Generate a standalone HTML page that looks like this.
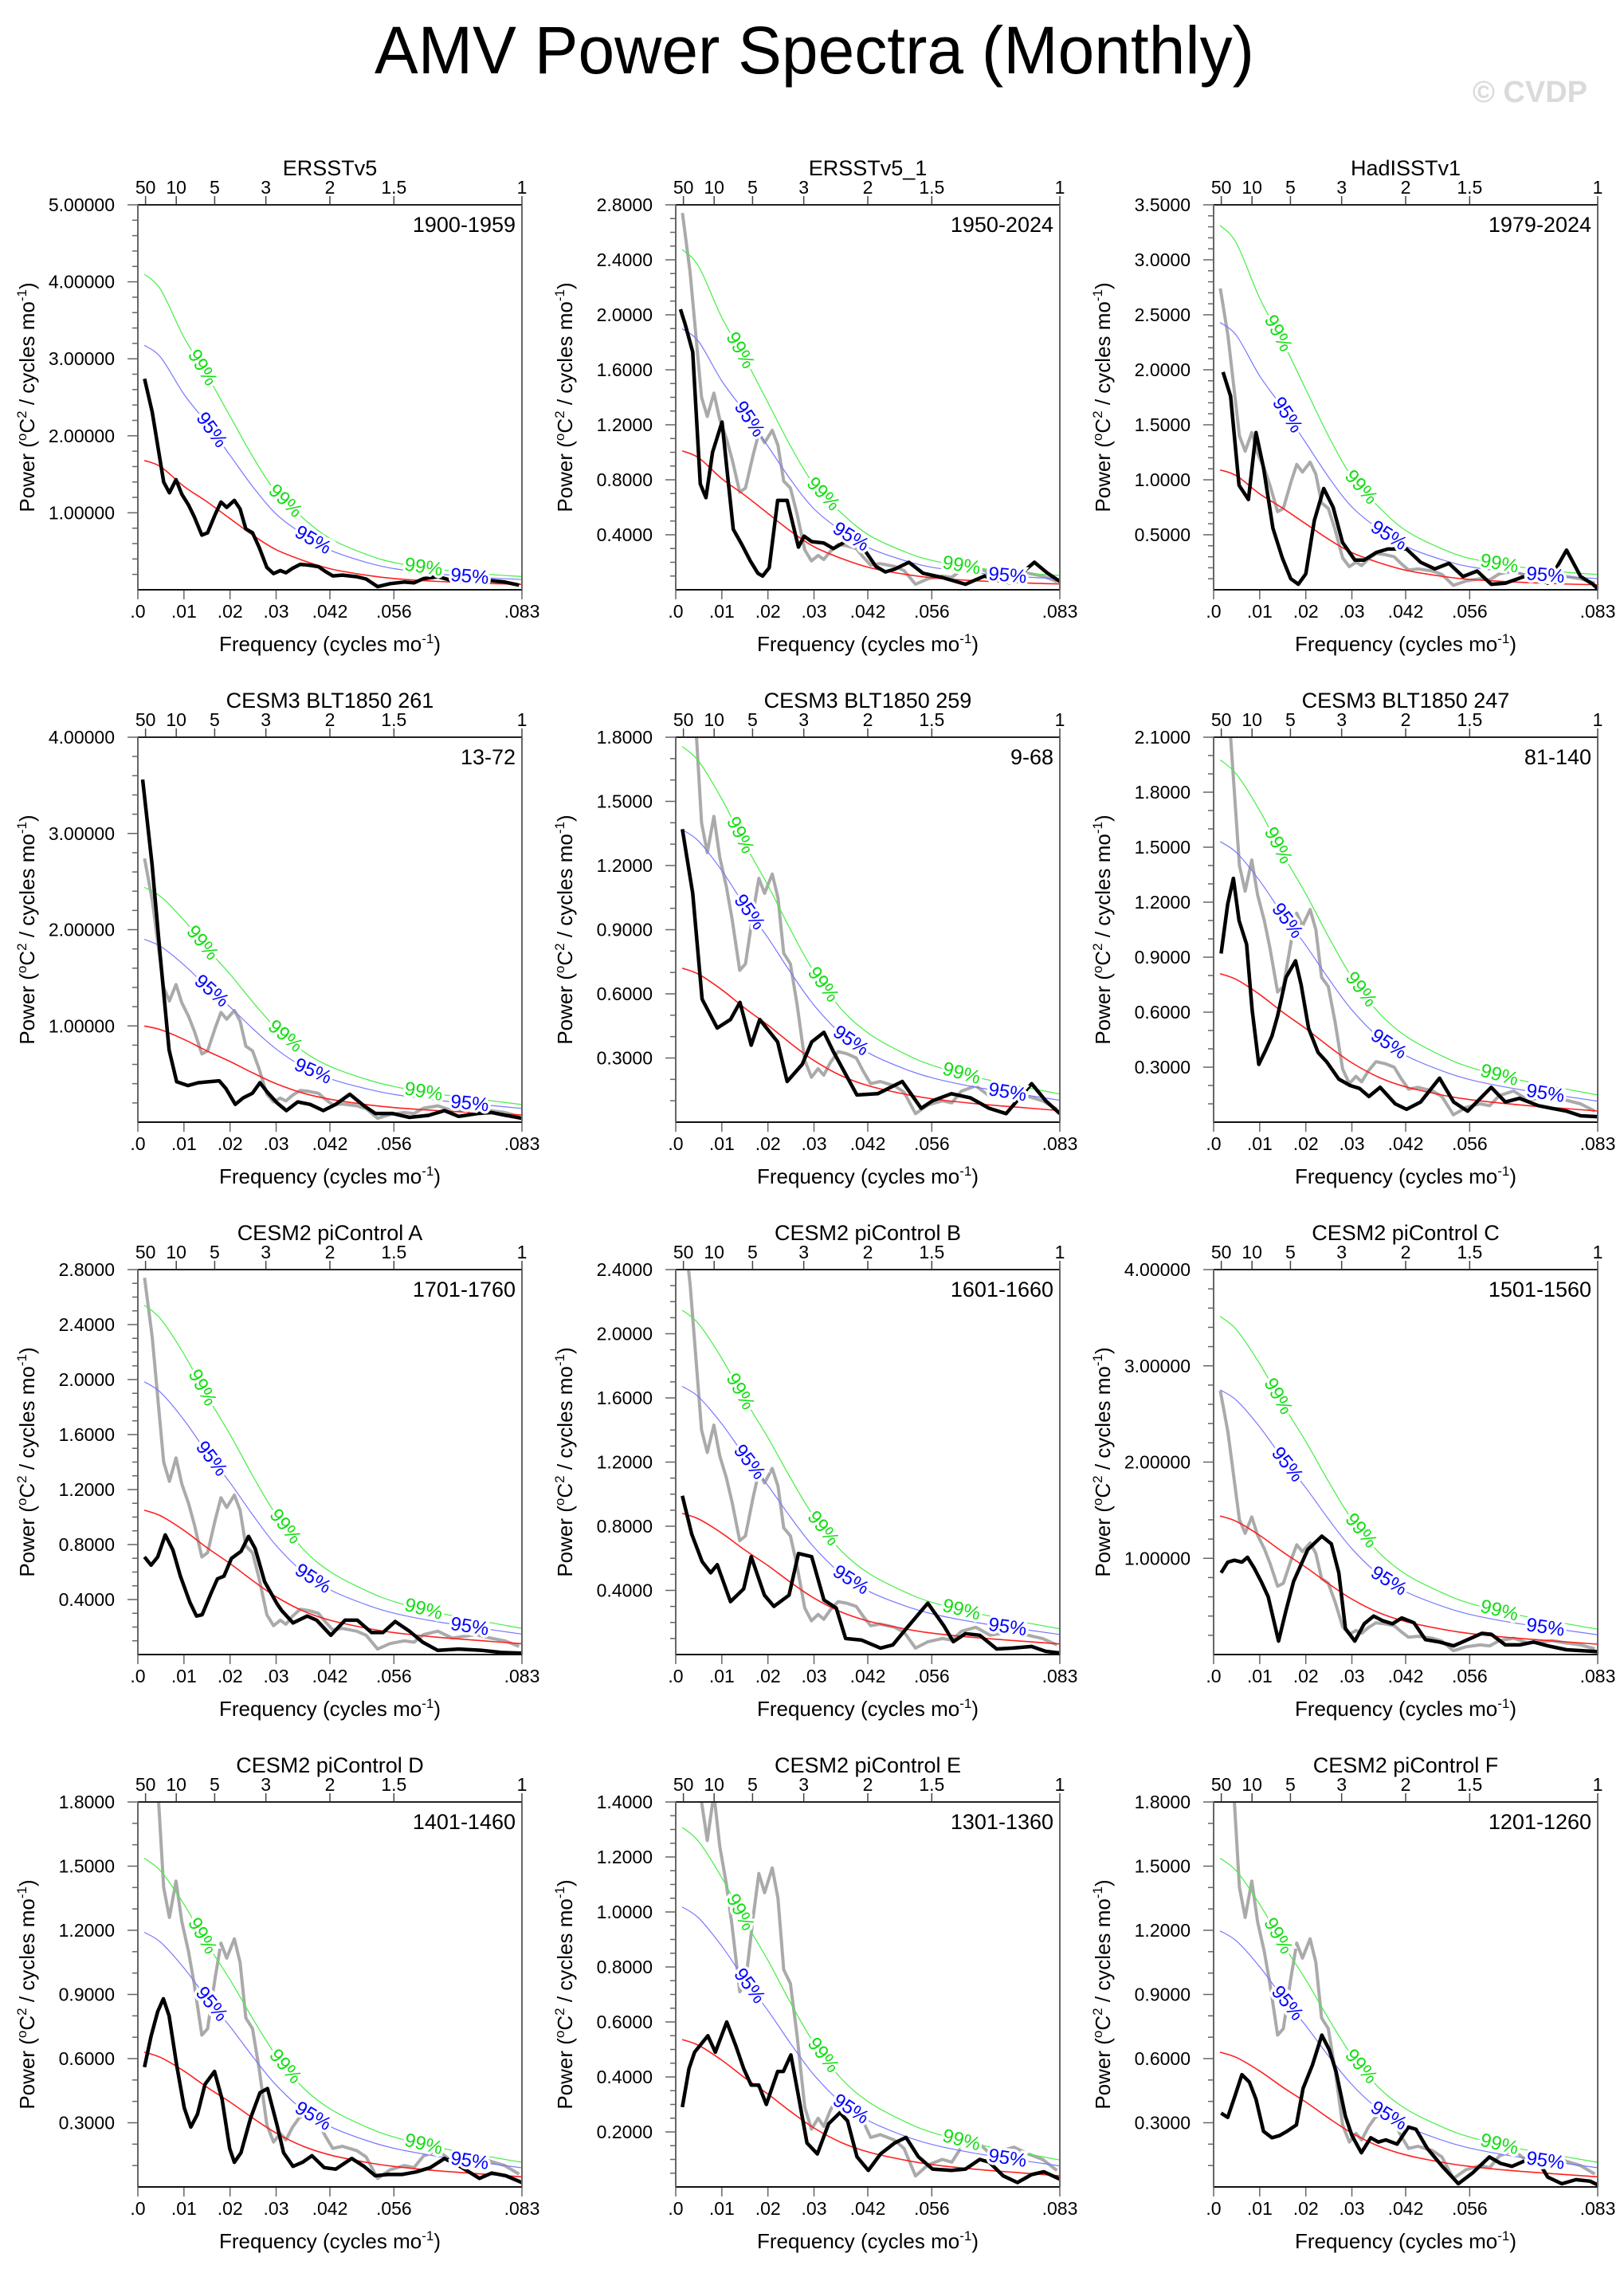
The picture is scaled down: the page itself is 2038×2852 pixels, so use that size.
<!DOCTYPE html>
<html><head><meta charset="utf-8"><title>AMV Power Spectra (Monthly)</title>
<style>
html,body{margin:0;padding:0;background:#fff;}
svg{display:block;font-family:"Liberation Sans",Arial,sans-serif;}
</style></head>
<body>
<svg id="fig" width="2038" height="2852" viewBox="0 0 2038 2852" xmlns="http://www.w3.org/2000/svg">
<rect x="0" y="0" width="2038" height="2852" fill="#fff"/>
<text x="1022" y="92" font-size="84" text-anchor="middle" textLength="1104" lengthAdjust="spacingAndGlyphs">AMV Power Spectra (Monthly)</text>
<text x="1992" y="128" font-size="38" font-weight="bold" fill="#dadada" text-anchor="end">© CVDP</text>
</svg>
<script>
// ---------------- data ----------------
const panelTitles = ["ERSSTv5","ERSSTv5_1","HadISSTv1","CESM3 BLT1850 261","CESM3 BLT1850 259","CESM3 BLT1850 247","CESM2 piControl A","CESM2 piControl B","CESM2 piControl C","CESM2 piControl D","CESM2 piControl E","CESM2 piControl F"];
const periodLabels = ["1900-1959","1950-2024","1979-2024","13-72","9-68","81-140","1701-1760","1601-1660","1501-1560","1401-1460","1301-1360","1201-1260"];
const yMaxes = [5,2.8,3.5,4,1.8,2.1,2.8,2.4,4,1.8,1.4,1.8];
const yMajorSteps = [1,0.4,0.5,1,0.3,0.3,0.4,0.4,1,0.3,0.2,0.3];
const xTickValues = [0,0.01,0.02,0.03,1/24,1/18,1/12];
const xTickLabels = [".0",".01",".02",".03",".042",".056",".083"];
const periodTickYears = [50,10,5,3,2,1.5,1];
const periodTickLabels = ["50","10","5","3","2","1.5","1"];

// frequencies in units of 0.001 cycles/mo, power in °C^2/(cycles/mo)
const freq1 = [1.45,3.11,5.60,6.84,8.29,9.54,10.99,12.23,13.89,15.13,16.79,18.04,19.28,20.94,22.18,23.42,24.88,26.33,27.99,29.44,30.89,32.13,33.58,35.24,37.11,39.18,40.63,42.29,44.36,47.47,49.54,52.03,54.73,57.84,59.91,61.98,65.09,68.20,73.38,76.49,79.60,82.71];
const power1 = [2.74,2.31,1.40,1.26,1.43,1.24,1.10,0.95,0.71,0.74,0.98,1.14,1.07,1.16,1.05,0.79,0.74,0.55,0.29,0.21,0.25,0.22,0.28,0.33,0.32,0.30,0.24,0.18,0.19,0.17,0.14,0.04,0.08,0.10,0.09,0.145,0.17,0.12,0.145,0.12,0.10,0.06];
const freq2 = [1.02,2.05,3.69,5.32,6.55,7.99,10.04,11.26,12.49,14.34,16.18,17.82,18.84,20.28,22.12,24.17,26.62,27.85,29.49,32.15,34.20,36.25,38.91,40.96,43.42,45.47,47.51,50.59,53.66,57.75,62.87,66.97,72.50,77.82,80.69,83.35];
const power2 = [2.04,1.93,1.73,0.77,0.67,1.0,1.22,0.83,0.44,0.33,0.21,0.12,0.10,0.16,0.65,0.65,0.31,0.39,0.35,0.34,0.30,0.34,0.42,0.29,0.17,0.13,0.15,0.20,0.12,0.09,0.04,0.10,0.05,0.20,0.12,0.06];
const freq3 = [2.04,3.68,5.51,7.56,9.19,10.82,12.86,14.91,16.74,18.38,20.01,21.85,23.89,25.93,27.98,30.63,32.67,35.33,37.78,41.86,44.92,47.99,51.05,54.11,57.18,60.24,63.30,67.39,70.04,72.49,76.58,79.64,82.29,83.32];
const power3 = [1.98,1.76,0.95,0.82,1.43,1.11,0.56,0.29,0.10,0.05,0.145,0.63,0.92,0.75,0.43,0.27,0.27,0.34,0.37,0.37,0.25,0.19,0.24,0.12,0.17,0.05,0.06,0.12,0.12,0.06,0.36,0.12,0.05,0.01];
const freq4 = [1.03,3.08,4.93,6.77,8.42,10.88,13.14,17.66,19.09,21.15,22.79,24.84,26.48,28.13,30.18,32.23,34.70,37.36,40.24,42.91,45.99,49.07,51.53,55.22,58.92,63.03,66.52,69.60,73.70,76.78,79.86,83.35];
const power4 = [3.56,2.68,1.69,0.75,0.42,0.38,0.41,0.43,0.35,0.185,0.25,0.30,0.41,0.31,0.20,0.12,0.21,0.185,0.12,0.185,0.29,0.17,0.09,0.09,0.05,0.07,0.12,0.06,0.09,0.10,0.07,0.04];
const freq5 = [1.43,3.69,5.73,9.01,11.88,13.93,16.38,18.23,22.12,24.17,27.44,29.49,32.15,34.20,39.32,43.83,49.15,53.25,55.71,59.80,63.90,67.99,71.68,77.21,80.28,83.35];
const power5 = [1.37,1.07,0.575,0.44,0.48,0.56,0.36,0.48,0.375,0.19,0.27,0.375,0.42,0.33,0.127,0.133,0.19,0.065,0.10,0.133,0.114,0.065,0.04,0.18,0.10,0.04];
const freq6 = [1.63,3.06,4.29,5.51,7.15,8.37,9.80,11.23,12.66,13.89,15.72,17.77,18.99,20.62,22.67,24.50,27.16,29.61,31.65,33.69,36.14,39.41,41.86,44.92,49.01,52.07,55.13,60.24,63.30,66.37,70.45,73.51,76.58,79.64,83.32];
const power6 = [0.92,1.19,1.33,1.10,0.97,0.61,0.315,0.39,0.47,0.58,0.79,0.88,0.75,0.51,0.38,0.33,0.235,0.20,0.184,0.14,0.19,0.10,0.07,0.11,0.24,0.11,0.06,0.19,0.11,0.13,0.09,0.075,0.06,0.035,0.03];
const freq7 = [1.44,2.87,4.31,5.95,7.60,9.24,11.29,12.73,13.96,15.81,17.25,18.68,20.32,22.38,24.02,25.46,27.51,30.18,31.21,33.67,36.75,38.80,41.88,44.96,47.63,50.71,53.17,55.84,58.92,61.80,65.08,69.60,74.73,78.84,83.35];
const power7 = [0.71,0.65,0.71,0.87,0.76,0.57,0.38,0.28,0.29,0.44,0.55,0.57,0.70,0.75,0.86,0.77,0.53,0.37,0.32,0.23,0.28,0.25,0.14,0.25,0.25,0.16,0.16,0.24,0.17,0.09,0.03,0.04,0.03,0.015,0.01];
const freq8 = [1.43,3.48,5.73,7.58,9.01,11.88,14.75,16.38,19.25,21.30,24.58,26.62,29.49,32.15,34.82,36.86,40.35,44.44,47.10,49.97,54.68,58.16,60.21,62.87,65.95,69.63,73.11,77.21,80.28,83.35];
const power8 = [0.99,0.75,0.58,0.51,0.56,0.33,0.41,0.61,0.37,0.30,0.37,0.63,0.61,0.34,0.29,0.10,0.09,0.04,0.06,0.16,0.32,0.18,0.08,0.13,0.12,0.035,0.04,0.05,0.02,0.01];
const freq9 = [1.63,3.06,4.49,6.13,7.35,8.78,10.41,11.84,14.09,15.72,17.36,20.42,23.48,25.53,27.16,28.59,30.63,32.67,34.71,36.76,38.80,40.84,43.49,45.95,49.01,52.07,55.13,58.20,60.24,63.30,66.37,69.43,72.49,76.58,83.32];
const power9 = [0.85,0.96,0.98,0.96,1.01,0.90,0.75,0.60,0.14,0.46,0.76,1.09,1.23,1.15,0.85,0.27,0.14,0.32,0.40,0.35,0.32,0.38,0.33,0.155,0.13,0.09,0.155,0.22,0.21,0.10,0.10,0.13,0.09,0.05,0.03];
const freq10 = [1.44,2.87,4.31,5.54,6.77,8.42,10.06,11.50,12.93,14.58,16.63,18.27,19.91,20.94,22.38,24.43,26.48,28.13,30.18,31.62,33.67,35.72,37.78,40.44,42.91,46.40,49.07,51.53,54.20,57.28,60.36,63.44,66.52,69.60,74.11,76.78,79.86,83.35];
const power10 = [0.56,0.705,0.82,0.88,0.80,0.57,0.37,0.28,0.34,0.48,0.54,0.41,0.18,0.115,0.16,0.32,0.44,0.46,0.29,0.16,0.096,0.115,0.146,0.09,0.083,0.133,0.096,0.052,0.058,0.058,0.07,0.09,0.133,0.10,0.04,0.065,0.052,0.02];
const freq11 = [1.43,2.87,4.10,5.53,6.96,8.60,11.06,13.11,14.75,16.38,18.02,19.66,22.12,23.35,24.99,26.42,28.47,30.72,33.18,35.64,37.27,39.32,41.78,44.44,47.51,49.97,52.63,55.71,59.80,62.87,65.95,67.99,71.07,74.14,77.21,79.87,83.35];
const power11 = [0.29,0.43,0.49,0.52,0.55,0.49,0.60,0.51,0.43,0.37,0.37,0.30,0.42,0.42,0.48,0.35,0.16,0.12,0.23,0.27,0.24,0.11,0.06,0.12,0.16,0.18,0.11,0.065,0.06,0.065,0.10,0.09,0.04,0.016,0.045,0.055,0.028];
const freq12 = [1.63,3.06,4.70,6.13,7.76,9.19,10.82,12.66,14.29,15.93,17.97,19.40,21.44,23.48,25.12,26.55,28.59,30.02,32.06,34.10,35.73,37.37,39.82,42.27,43.90,46.35,49.62,53.09,56.16,59.83,62.28,64.73,68.41,70.45,72.49,75.55,78.62,81.68,83.32];
const power12 = [0.345,0.325,0.43,0.525,0.49,0.41,0.26,0.23,0.24,0.26,0.29,0.46,0.57,0.71,0.64,0.54,0.33,0.24,0.16,0.23,0.21,0.22,0.20,0.28,0.27,0.18,0.096,0.015,0.065,0.14,0.11,0.096,0.13,0.12,0.046,0.015,0.034,0.027,0.01];

// reference (gray) spectrum = ERSSTv5 1900-1959, drawn in panels 2-12
const refFreq = freq1;
const refPower = power1;

// red-noise spectrum: sample frequencies (0.001 cycles/mo), normalized shapes, amplitudes at f~0
const redFreq = [1.4,5,10,15,20,25,30,36,42,50,56,65,75,83.3];
const redShapeObs = [1,0.95,0.80,0.68,0.55,0.42,0.31,0.225,0.16,0.11,0.085,0.065,0.05,0.042];
const redShapeModel = [1,0.96,0.86,0.74,0.63,0.51,0.40,0.30,0.235,0.18,0.15,0.12,0.095,0.075];
const redAmp = [1.68,1.01,1.09,1.0,0.72,0.81,1.05,0.88,1.44,0.63,0.536,0.63];
const ratio95 = [1.89,1.88,2.23,1.90,1.90,1.89,1.89,1.90,1.91,1.89,1.90,1.90];
const ratio99 = [2.44,2.45,3.04,2.44,2.44,2.44,2.42,2.44,2.44,2.44,2.44,2.44];

const blackFreqs = [freq1,freq2,freq3,freq4,freq5,freq6,freq7,freq8,freq9,freq10,freq11,freq12];
const blackPowers = [power1,power2,power3,power4,power5,power6,power7,power8,power9,power10,power11,power12];

// ---------------- drawing ----------------
const NS = "http://www.w3.org/2000/svg";
const svg = document.getElementById("fig");
function mk(tag, attrs, parent){
  const e = document.createElementNS(NS, tag);
  for (const k in attrs) e.setAttribute(k, attrs[k]);
  (parent||svg).appendChild(e);
  return e;
}
const PW = 482, PH = 483, FMAX = 1/12;

function smoothPath(pts){
  let d = "M" + pts[0][0].toFixed(1) + "," + pts[0][1].toFixed(1);
  for (let i=0;i<pts.length-1;i++){
    const p0 = pts[Math.max(0,i-1)], p1 = pts[i], p2 = pts[i+1], p3 = pts[Math.min(pts.length-1,i+2)];
    const c1x = p1[0]+(p2[0]-p0[0])/6, c1y = p1[1]+(p2[1]-p0[1])/6;
    const c2x = p2[0]-(p3[0]-p1[0])/6, c2y = p2[1]-(p3[1]-p1[1])/6;
    d += " C"+c1x.toFixed(1)+","+c1y.toFixed(1)+" "+c2x.toFixed(1)+","+c2y.toFixed(1)+" "+p2[0].toFixed(1)+","+p2[1].toFixed(1);
  }
  return d;
}
function linePath(pts){
  return pts.map((p,i)=>(i?"L":"M")+p[0].toFixed(1)+","+p[1].toFixed(1)).join(" ");
}

for (let p=0;p<12;p++){
  const col = p%3, row = Math.floor(p/3);
  const L = 173 + col*675, T = 257 + row*668, R = L+PW, B = T+PH;
  const ymax = yMaxes[p], step = yMajorSteps[p];
  const xs = f => L + (f/FMAX)*PW;
  const ys = v => B - (v/ymax)*PH;
  const g = mk("g", {});
  
  

  const cid = "clip"+p;
  const cp = mk("clipPath",{id:cid}, g);
  mk("rect",{x:L,y:T,width:PW,height:PH}, cp);

  const tt = mk("text",{x:(L+R)/2,y:T-37,"font-size":27,"text-anchor":"middle"}, g);
  tt.textContent = panelTitles[p];
  
  

  const pl = mk("text",{x:R-8,y:T+34,"font-size":27,"text-anchor":"end"}, g);
  pl.textContent = periodLabels[p];
  
  

  const dec = step>=1 ? 5 : 4;
  const nMinor = (Math.abs(step-0.3)<1e-6) ? 3 : (Math.abs(step-0.2)<1e-6||Math.abs(step-0.4)<1e-6) ? 4 : 5;
  const minorStep = step/nMinor;
  for (let i=1;i*minorStep<=ymax+1e-9;i++){
    const v = i*minorStep, y = ys(v);
    const isMajor = (i % nMinor)===0;
    mk("line",{x1:L-(isMajor?13:7),x2:L,y1:y,y2:y,stroke:"#666","stroke-width":1.5}, g);
    if (isMajor){
      const lab = mk("text",{x:L-29,y:y+8,"font-size":23,"text-anchor":"end"}, g);
      lab.textContent = v.toFixed(dec);
      
      
    }
  }
  const yt = mk("text",{x:0,y:0,"font-size":26,"text-anchor":"middle",transform:"translate("+(L-130)+","+((T+B)/2)+") rotate(-90)"}, g);
  yt.innerHTML = 'Power (<tspan font-size="17" dy="-10">o</tspan><tspan dy="10">C</tspan><tspan font-size="17" dy="-10">2</tspan><tspan dy="10"> / cycles mo</tspan><tspan font-size="17" dy="-10">-1</tspan><tspan dy="10">)</tspan>';
  
  

  xTickValues.forEach((f,i)=>{
    const x = xs(f);
    mk("line",{x1:x,x2:x,y1:B,y2:B+12,stroke:"#666","stroke-width":1.5}, g);
    const lab = mk("text",{x:x,y:B+35,"font-size":23,"text-anchor":"middle"}, g);
    lab.textContent = xTickLabels[i];
    
    
  });
  periodTickYears.forEach((yr,i)=>{
    const x = xs(1/(12*yr));
    mk("line",{x1:x,x2:x,y1:T-11,y2:T,stroke:"#444","stroke-width":1.5}, g);
    const lab = mk("text",{x:x,y:T-14,"font-size":23,"text-anchor":"middle"}, g);
    lab.textContent = periodTickLabels[i];
    
    
  });
  const xt = mk("text",{x:(L+R)/2,y:B+77,"font-size":26,"text-anchor":"middle"}, g);
  xt.innerHTML = 'Frequency (cycles mo<tspan font-size="17" dy="-10">-1</tspan><tspan dy="10">)</tspan>';
  
  

  const shape = p<3 ? redShapeObs : redShapeModel;
  const redPts = redFreq.map((f,i)=>[xs(f/1000), ys(redAmp[p]*shape[i])]);
  const bluePts = redFreq.map((f,i)=>[xs(f/1000), ys(redAmp[p]*shape[i]*ratio95[p])]);
  const greenPts = redFreq.map((f,i)=>[xs(f/1000), ys(redAmp[p]*shape[i]*ratio99[p])]);
  const cg = mk("g",{"clip-path":"url(#"+cid+")"}, g);

  if (p>0){
    const gp = mk("path",{d:linePath(refFreq.map((f,i)=>[xs(f/1000), ys(refPower[i])])),fill:"none",stroke:"#aaaaaa","stroke-width":4,"stroke-linejoin":"round"}, cg);
    
    
  }
  const gr = mk("path",{d:smoothPath(greenPts),fill:"none",stroke:"#44ee44","stroke-width":1.2}, cg);
  
  
  const bl = mk("path",{d:smoothPath(bluePts),fill:"none",stroke:"#7777ff","stroke-width":1.2}, cg);
  
  
  const rd = mk("path",{d:smoothPath(redPts),fill:"none",stroke:"#ff2020","stroke-width":1.6}, cg);
  
  
  const bk = mk("path",{d:linePath(blackFreqs[p].map((f,i)=>[xs(f/1000), ys(blackPowers[p][i])])),fill:"none",stroke:"#000","stroke-width":4.5,"stroke-linejoin":"round"}, cg);
  
  

  function curveLabel(pts, fq, txt, color){
    const fx = xs(fq/1000);
    let i = 0; while (i<pts.length-2 && pts[i+1][0]<fx) i++;
    const a = pts[i], b = pts[i+1];
    const t = (fx-a[0])/(b[0]-a[0]);
    const y = a[1]+t*(b[1]-a[1]);
    const ang = Math.atan2(b[1]-a[1], b[0]-a[0])*180/Math.PI;
    const lt = mk("text",{x:0,y:0,"font-size":24,"text-anchor":"middle",fill:color,stroke:"#fff","stroke-width":7,"paint-order":"stroke","dominant-baseline":"central",transform:"translate("+fx.toFixed(1)+","+y.toFixed(1)+") rotate("+ang.toFixed(1)+")"}, g);
    lt.textContent = txt;
    
    
  }
  [14,32,62].forEach(f=>curveLabel(greenPts,f,"99%","#11dd11"));
  [16,38,72].forEach(f=>curveLabel(bluePts,f,"95%","#0000ff"));

  mk("line",{x1:L,x2:R,y1:T,y2:T,stroke:"#222","stroke-width":2}, g);
  mk("line",{x1:L,x2:R,y1:B,y2:B,stroke:"#111","stroke-width":2}, g);
  mk("line",{x1:L,x2:L,y1:T,y2:B,stroke:"#666","stroke-width":2}, g);
  mk("line",{x1:R,x2:R,y1:T,y2:B,stroke:"#666","stroke-width":2}, g);
}
</script>
</body></html>
